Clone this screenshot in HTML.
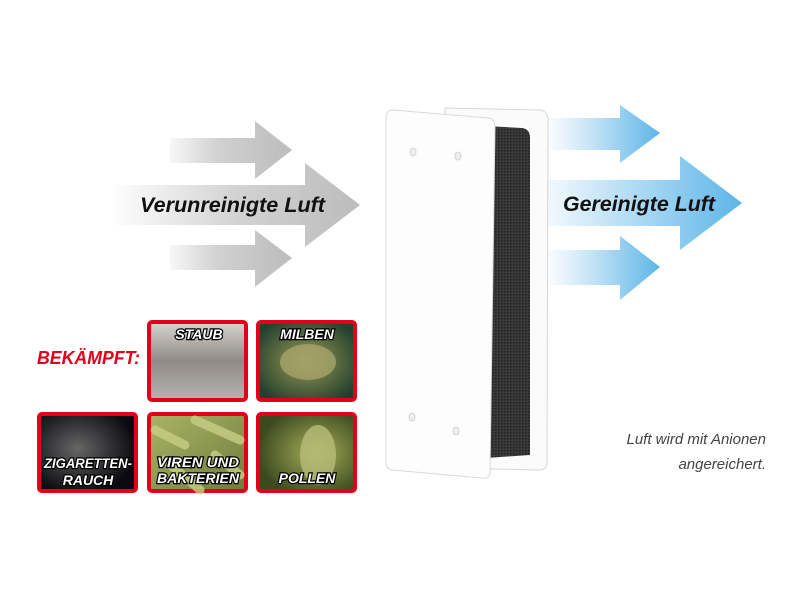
<!DOCTYPE html>
<html><head><meta charset="utf-8"><style>
html,body{margin:0;padding:0;background:#fff;width:800px;height:600px;overflow:hidden}
svg{display:block}
</style></head><body>
<svg width="800" height="600" viewBox="0 0 800 600" xmlns="http://www.w3.org/2000/svg">
<defs>
<linearGradient id="gt" x1="160" x2="292" gradientUnits="userSpaceOnUse"><stop offset="0" stop-color="#fff"/><stop offset="0.45" stop-color="#d0d0d0"/><stop offset="1" stop-color="#bcbcbc"/></linearGradient>
<linearGradient id="gm" x1="110" x2="360" gradientUnits="userSpaceOnUse"><stop offset="0" stop-color="#fff"/><stop offset="0.5" stop-color="#d3d3d3"/><stop offset="1" stop-color="#bcbcbc"/></linearGradient>
<linearGradient id="bt" x1="545" x2="660" gradientUnits="userSpaceOnUse"><stop offset="0" stop-color="#fff"/><stop offset="0.4" stop-color="#c6e4f6"/><stop offset="1" stop-color="#5db5e8"/></linearGradient>
<linearGradient id="bm" x1="530" x2="742" gradientUnits="userSpaceOnUse"><stop offset="0" stop-color="#fff"/><stop offset="0.3" stop-color="#cfe9f8"/><stop offset="1" stop-color="#5db5e8"/></linearGradient>
<pattern id="mesh" width="3" height="3" patternUnits="userSpaceOnUse"><rect width="3" height="3" fill="#3a3a3a"/><rect width="1.5" height="1.5" fill="#222"/></pattern>
<linearGradient id="dust" x1="0" y1="0" x2="0" y2="1"><stop offset="0" stop-color="#d8d4d0"/><stop offset="0.5" stop-color="#8f8a86"/><stop offset="1" stop-color="#b7b3b0"/></linearGradient>
<radialGradient id="mite" cx="0.5" cy="0.5" r="0.6"><stop offset="0" stop-color="#9a9a55"/><stop offset="1" stop-color="#22402e"/></radialGradient>
<radialGradient id="smoke" cx="0.4" cy="0.45" r="0.6"><stop offset="0" stop-color="#666"/><stop offset="1" stop-color="#0a0a10"/></radialGradient>
<linearGradient id="bact" x1="0" y1="0" x2="1" y2="1"><stop offset="0" stop-color="#aab468"/><stop offset="1" stop-color="#6f7d3a"/></linearGradient>
<radialGradient id="pol" cx="0.6" cy="0.5" r="0.6"><stop offset="0" stop-color="#a7b05a"/><stop offset="1" stop-color="#3d4a1f"/></radialGradient>
</defs>

<path d="M170 138 H255 V121 L292 150 L255 179 V163 H170 Z" fill="url(#gt)"/>
<path d="M170 245 H255 V230 L292 258 L255 287 V270 H170 Z" fill="url(#gt)"/>
<path d="M110 185 H305 V163 L360 205 L305 247 V225 H110 Z" fill="url(#gm)"/>

<path d="M545 118 H620 V105 L660 133 L620 163 V150 H545 Z" fill="url(#bt)"/>
<path d="M545 250 H620 V236 L660 267 L620 300 V285 H545 Z" fill="url(#bt)"/>
<path d="M530 180 H680 V156 L742 203 L680 250 V226 H530 Z" fill="url(#bm)"/>

<path d="M445 108 L540 110 Q548 111 548 120 L547 462 Q547 470 539 470 L450 468 Z" fill="#fbfbfb" stroke="#d6d6d6" stroke-width="1"/>
<path d="M485 126 L522 128 Q530 129 530 138 L530 455 L486 458 Z" fill="url(#mesh)"/>
<path d="M393 110 L488 118 Q495 119 495 127 L490 472 Q490 479 482 478 L392 470 Q386 469 386 462 L386 118 Q386 110 393 110 Z" fill="#fdfdfd" stroke="#dadada" stroke-width="1"/>
<g fill="#eee" stroke="#ccc" stroke-width="0.8">
<ellipse cx="413" cy="152" rx="3" ry="4"/><ellipse cx="458" cy="156" rx="3" ry="4"/>
<ellipse cx="412" cy="417" rx="3" ry="4"/><ellipse cx="456" cy="431" rx="3" ry="4"/>
</g>

<text x="140" y="212" textLength="185" lengthAdjust="spacingAndGlyphs" font-family="Liberation Sans, sans-serif" font-weight="bold" font-style="italic" font-size="21" fill="#111">Verunreinigte Luft</text>
<text x="563" y="211" textLength="152" lengthAdjust="spacingAndGlyphs" font-family="Liberation Sans, sans-serif" font-weight="bold" font-style="italic" font-size="21" fill="#111">Gereinigte Luft</text>
<text x="766" y="444" text-anchor="end" font-family="Liberation Sans, sans-serif" font-style="italic" font-size="15" fill="#444">Luft wird mit Anionen</text>
<text x="766" y="469" text-anchor="end" font-family="Liberation Sans, sans-serif" font-style="italic" font-size="15" fill="#444">angereichert.</text>
<text x="37" y="364" textLength="103" lengthAdjust="spacingAndGlyphs" font-family="Liberation Sans, sans-serif" font-weight="bold" font-style="italic" font-size="18" fill="#e2001a">BEKÄMPFT:</text>

<g stroke="#e2001a" stroke-width="4">
<rect x="149" y="322" width="97" height="78" rx="3" fill="url(#dust)"/>
<rect x="258" y="322" width="97" height="78" rx="3" fill="url(#mite)"/>
<rect x="39" y="414" width="97" height="77" rx="3" fill="url(#smoke)"/>
<rect x="149" y="414" width="97" height="77" rx="3" fill="url(#bact)"/>
<rect x="258" y="414" width="97" height="77" rx="3" fill="url(#pol)"/>
</g>
<ellipse cx="308" cy="362" rx="28" ry="18" fill="#a6a46a" opacity="0.8"/>
<g stroke="#c7cf85" stroke-width="9" stroke-linecap="round" opacity="0.8">
<line x1="155" y1="430" x2="185" y2="445"/><line x1="195" y1="420" x2="240" y2="440"/><line x1="165" y1="460" x2="200" y2="490"/><line x1="215" y1="455" x2="240" y2="475"/>
</g>
<ellipse cx="318" cy="455" rx="18" ry="30" fill="#b8bd78" opacity="0.8"/>
<g font-family="Liberation Sans, sans-serif" font-weight="bold" font-style="italic" font-size="14" fill="#fff" stroke="#000" stroke-width="2.4" paint-order="stroke" text-anchor="middle">
<text x="199" y="339">STAUB</text>
<text x="307" y="339">MILBEN</text>
<text x="88" y="468" textLength="88" lengthAdjust="spacingAndGlyphs">ZIGARETTEN-</text>
<text x="88" y="485">RAUCH</text>
<text x="198" y="467" textLength="82" lengthAdjust="spacingAndGlyphs">VIREN UND</text>
<text x="198" y="483" textLength="82" lengthAdjust="spacingAndGlyphs">BAKTERIEN</text>
<text x="307" y="483">POLLEN</text>
</g>
</svg>
</body></html>
